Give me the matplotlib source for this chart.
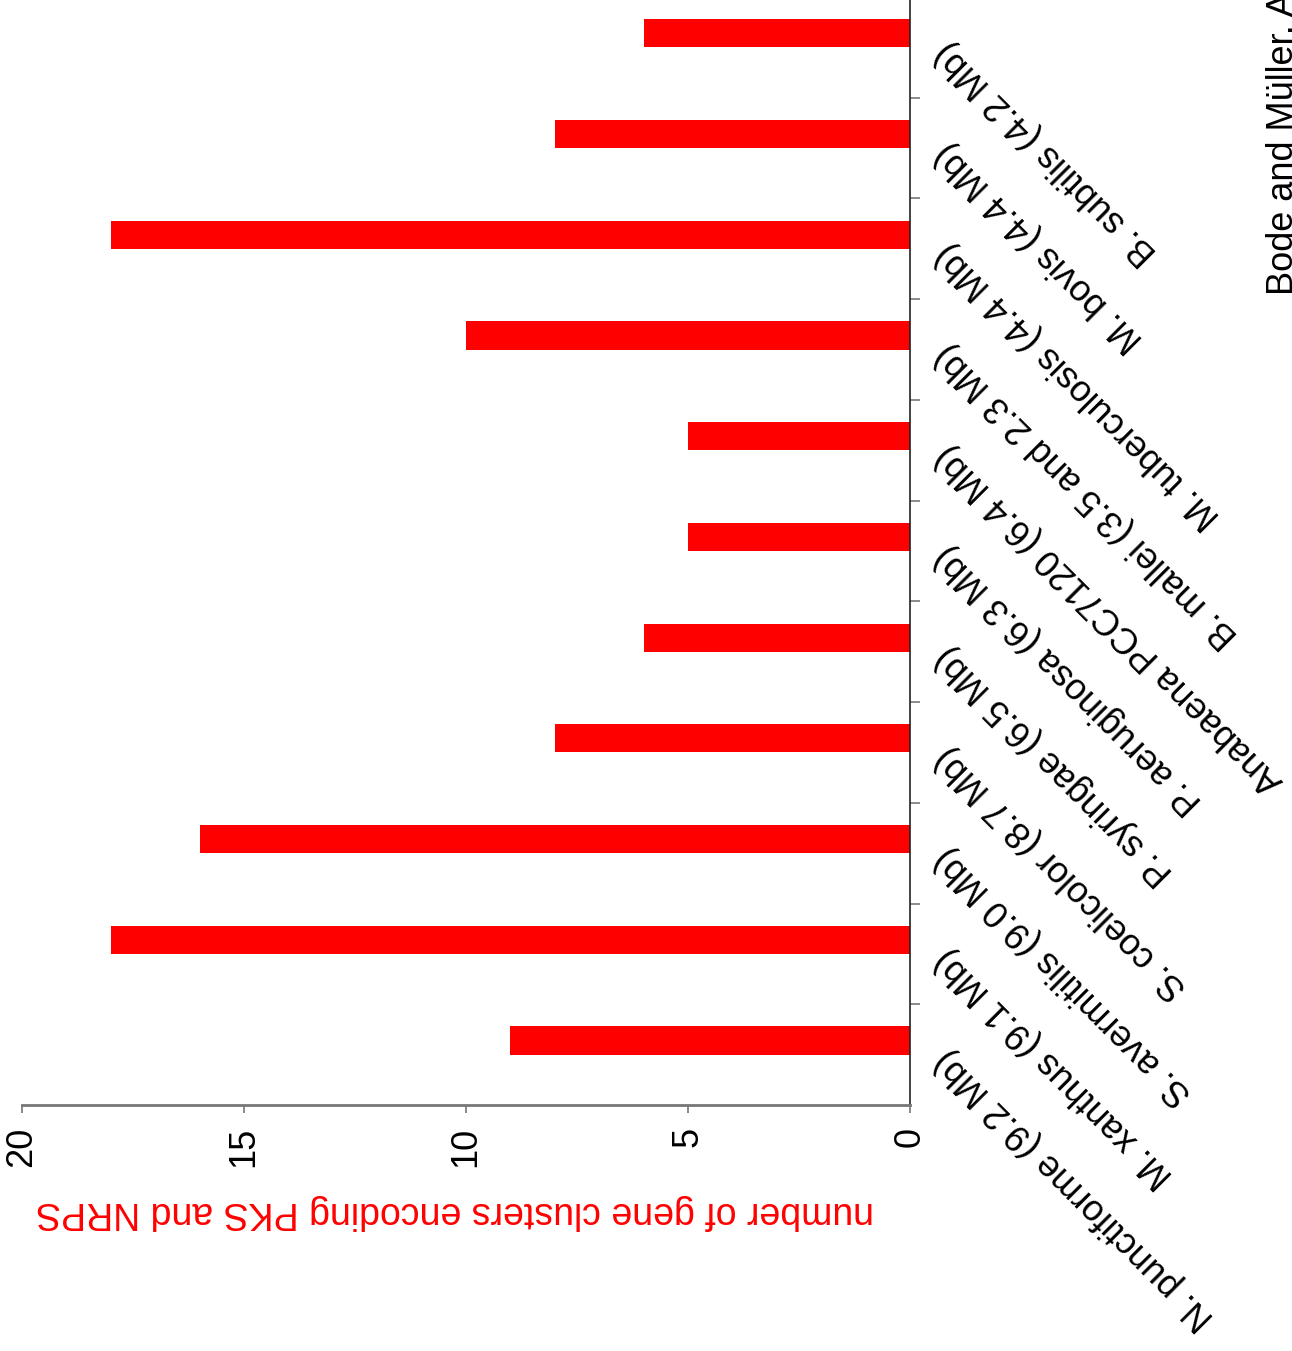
import numpy as np
import matplotlib
matplotlib.use("Agg")
import matplotlib.pyplot as plt
from matplotlib.ticker import FixedLocator

plt.rcParams['font.family'] = ['Liberation Sans', 'DejaVu Sans']

# categories listed from the bottom of the chart to the top
species = ["N. punctiforme (9.2 Mb)", "M. xanthus (9.1 Mb)", "S. avermitilis (9.0 Mb)",
           "S. coelicolor (8.7 Mb)", "P. syringae (6.5 Mb)", "P. aeruginosa (6.3 Mb)",
           "Anabaena PCC7120 (6.4 Mb)", "B. mallei (3.5 and 2.3 Mb)",
           "M. tuberculosis (4.4 Mb)", "M. bovis (4.4 Mb)", "B. subtilis (4.2 Mb)"]
clusters = [9, 18, 16, 8, 6, 5, 5, 10, 18, 8, 6]
value_ticks = [0, 5, 10, 15, 20]

W, H = 1292, 1351
fig = plt.figure(figsize=(W / 100, H / 100), dpi=100)
ax = fig.add_axes([22 / W, 1 - 1105 / H, (910 - 22) / W, (1105 + 3) / H])

pos = np.arange(len(species))
# bars sit a little off the category centre (clustered bar layout)
ax.barh(pos + 0.14, clusters, height=0.28, color="#ff0000", edgecolor="none")

ax.set_xlim(20, 0)
ax.set_ylim(-0.5, len(species) - 0.5)

# value axis (bottom)
ax.set_xticks(value_ticks)
ax.set_xticklabels([str(v) for v in value_ticks], rotation=90, fontsize=26,
                   ha="center", va="top")
ax.tick_params(axis="x", direction="out", length=6, width=1.2, color="#777777", pad=10)
ax.set_xlabel("number of gene clusters encoding PKS and NRPS", color="#ff0000",
              fontsize=27, rotation=180, labelpad=14)
ax.xaxis.set_label_coords(0.488, -0.08)

# category axis (right)
ax.yaxis.tick_right()
ax.set_yticks(pos)
ax.set_yticklabels(species, rotation=135, fontsize=26, ha="right", va="center",
                   rotation_mode="anchor")
ax.tick_params(axis="y", which="major", length=0, pad=22)
ax.yaxis.set_minor_locator(FixedLocator(pos[:-1] + 0.5))
ax.tick_params(axis="y", which="minor", direction="out", length=7, width=1.2,
               color="#777777", right=True, left=False)

for s in ["top", "left"]:
    ax.spines[s].set_visible(False)
ax.spines["bottom"].set_color("#777777")
ax.spines["bottom"].set_linewidth(2)
ax.spines["right"].set_color("#222222")
ax.spines["right"].set_linewidth(1.2)

fig.text(1293 / W, 1 - 295 / H, "Bode and Müller, Angew. Chem.", rotation=90,
         fontsize=26, ha="left", va="baseline", rotation_mode="anchor")

fig.savefig("out.png", dpi=100, facecolor="white")
